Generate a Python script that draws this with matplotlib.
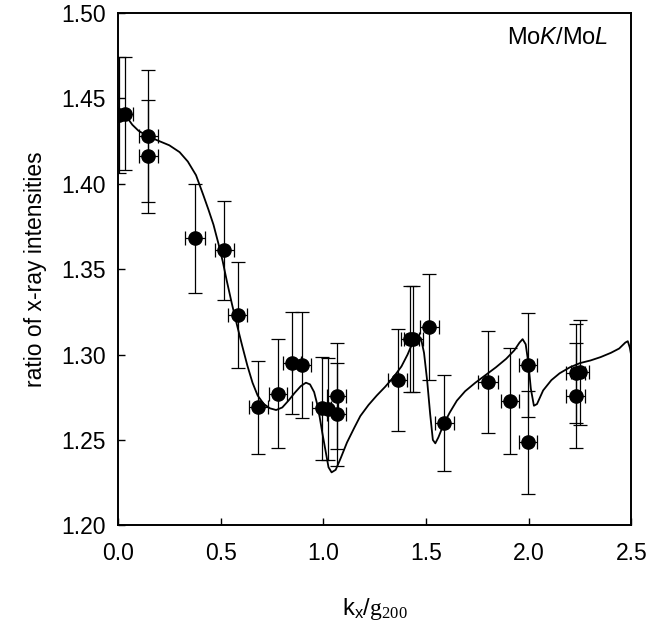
import matplotlib
matplotlib.use("Agg")
import matplotlib.pyplot as plt

plt.rcParams['font.family'] = ['Liberation Sans', 'DejaVu Sans']
plt.rcParams['mathtext.fontset'] = 'custom'
plt.rcParams['mathtext.rm'] = 'Liberation Serif'
plt.rcParams['mathtext.it'] = 'Liberation Sans:italic'
plt.rcParams['mathtext.sf'] = 'Liberation Sans'

# measured points
kx = [0.005, 0.035, 0.148, 0.148, 0.375, 0.518, 0.583, 0.683, 0.780, 0.846, 0.894,
      0.992, 1.024, 1.065, 1.065, 1.362, 1.422, 1.438, 1.516, 1.589, 1.800, 1.909,
      1.995, 1.995, 2.228, 2.249, 2.228]
ratio = [1.440, 1.441, 1.428, 1.416, 1.368, 1.361, 1.323, 1.269, 1.277, 1.295, 1.294,
         1.2685, 1.268, 1.2755, 1.265, 1.285, 1.309, 1.309, 1.316, 1.260, 1.284, 1.273,
         1.294, 1.2485, 1.289, 1.2895, 1.276]
ratio_err = [0.034, 0.033, 0.0385, 0.033, 0.032, 0.029, 0.031, 0.027, 0.032, 0.030, 0.031,
             0.030, 0.030, 0.031, 0.030, 0.030, 0.031, 0.031, 0.031, 0.028, 0.030, 0.031,
             0.0306, 0.030, 0.029, 0.031, 0.031]
kx_err = [0.0, 0.036, 0.045, 0.045, 0.048, 0.045, 0.045, 0.045, 0.045, 0.045, 0.045,
          0.045, 0.045, 0.045, 0.045, 0.045, 0.045, 0.045, 0.045, 0.045, 0.048, 0.045,
          0.045, 0.045, 0.045, 0.045, 0.045]

# calculated curve
curve_x = [0.000, 0.020, 0.040, 0.070, 0.100, 0.150, 0.200, 0.250, 0.300, 0.340,
           0.380, 0.415, 0.440, 0.465, 0.490, 0.510, 0.530, 0.555, 0.580, 0.605,
           0.630, 0.655, 0.680, 0.710, 0.740, 0.770, 0.800, 0.830, 0.860, 0.890,
           0.915, 0.935, 0.955, 0.975, 0.995, 1.010, 1.025, 1.040, 1.060, 1.085,
           1.115, 1.150, 1.180, 1.220, 1.260, 1.300, 1.340, 1.380, 1.410, 1.440,
           1.460, 1.475, 1.490, 1.505, 1.520, 1.533, 1.545, 1.560, 1.585, 1.615,
           1.650, 1.690, 1.740, 1.790, 1.840, 1.890, 1.930, 1.955, 1.970, 1.985,
           1.998, 2.010, 2.025, 2.040, 2.070, 2.110, 2.150, 2.200, 2.250, 2.300,
           2.350, 2.400, 2.440, 2.470, 2.482, 2.492, 2.500]
curve_y = [1.4430, 1.4420, 1.4395, 1.4345, 1.4310, 1.4275, 1.4250, 1.4225, 1.4185, 1.4130,
           1.4050, 1.3935, 1.3850, 1.3760, 1.3645, 1.3545, 1.3430, 1.3295, 1.3170, 1.3050,
           1.2935, 1.2835, 1.2760, 1.2710, 1.2685, 1.2675, 1.2690, 1.2730, 1.2775, 1.2815,
           1.2835, 1.2825, 1.2780, 1.2685, 1.2540, 1.2440, 1.2340, 1.2310, 1.2325, 1.2395,
           1.2485, 1.2570, 1.2640, 1.2705, 1.2760, 1.2810, 1.2865, 1.2930, 1.3000, 1.3085,
           1.3110, 1.3095, 1.3010, 1.2850, 1.2650, 1.2500, 1.2480, 1.2515, 1.2590, 1.2660,
           1.2730, 1.2785, 1.2835, 1.2880, 1.2925, 1.2975, 1.3025, 1.3070, 1.3090, 1.3060,
           1.2950, 1.2800, 1.2700, 1.2710, 1.2790, 1.2850, 1.2890, 1.2925, 1.2950, 1.2965,
           1.2985, 1.3010, 1.3035, 1.3070, 1.3078, 1.3040, 1.2985]

fig = plt.figure(figsize=(6.5, 6.31), dpi=100)
ax = fig.add_axes([0.1815, 0.1675, 0.79, 0.812])

ax.plot(curve_x, curve_y, color='black', lw=1.3, zorder=2)
ax.errorbar(kx, ratio, yerr=ratio_err, xerr=kx_err, fmt='o', color='black',
            ms=9.5, elinewidth=0.9, capsize=5, capthick=0.9, zorder=3)

ax.set_xlim(0, 2.5)
ax.set_ylim(1.20, 1.50)
ax.set_xticks([0.0, 0.5, 1.0, 1.5, 2.0, 2.5])
ax.set_xticklabels(['0.0', '0.5', '1.0', '1.5', '2.0', '2.5'])
ax.set_yticks([1.20, 1.25, 1.30, 1.35, 1.40, 1.45, 1.50])
ax.set_yticklabels(['1.20', '1.25', '1.30', '1.35', '1.40', '1.45', '1.50'])
ax.tick_params(axis='both', direction='in', length=5, width=1.0, labelsize=16.5,
               top=False, right=False)
ax.tick_params(axis='x', pad=12)
ax.tick_params(axis='y', pad=9)
for s in ax.spines.values():
    s.set_linewidth(1.4)

ax.set_xlabel(r'k$_\mathsf{x}$/$\mathrm{g}_{200}$', fontsize=17, labelpad=22)
ax.set_ylabel('ratio of x-ray intensities', fontsize=16.5, labelpad=10)

ax.text(0.955, 0.972, r'Mo$\mathit{K}$/Mo$\mathit{L}$', transform=ax.transAxes,
        ha='right', va='top', fontsize=17)

fig.savefig('out.png', dpi=100)
